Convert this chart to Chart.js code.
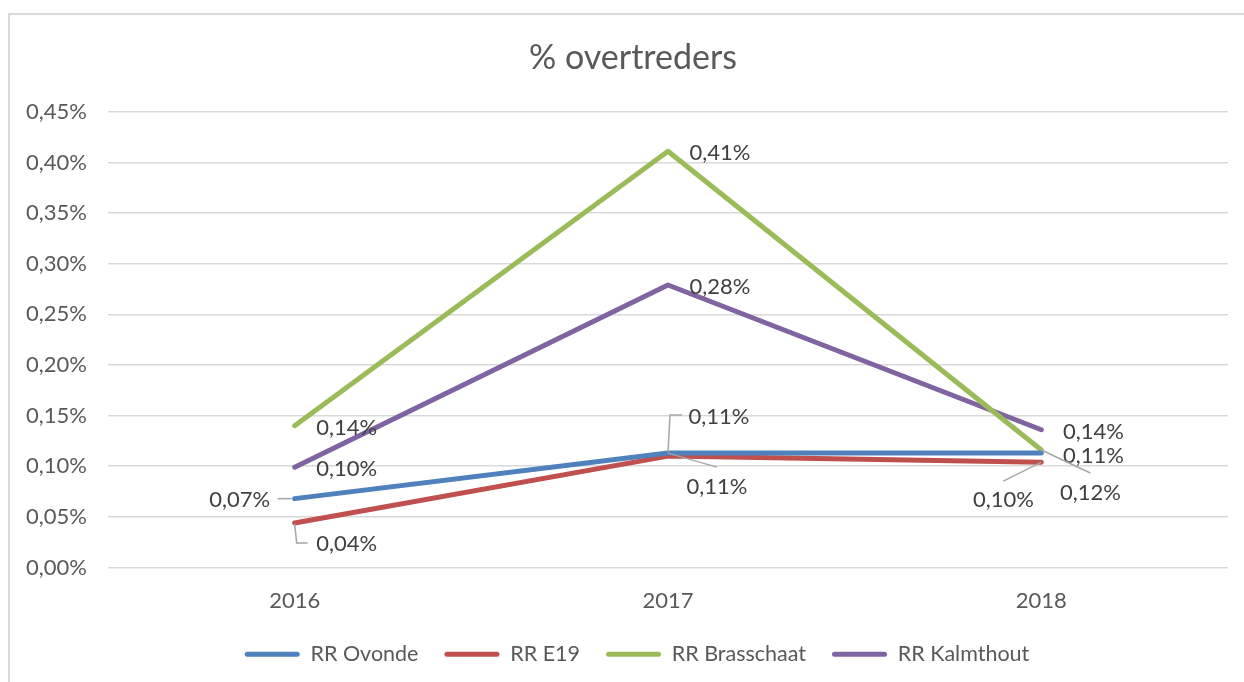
<!DOCTYPE html>
<html>
<head>
<meta charset="utf-8">
<script src="https://cdn.jsdelivr.net/npm/chart.js@4.4.1/dist/chart.umd.min.js"></script>
<style>
  html, body { margin: 0; padding: 0; background: #fff; }
  #frame { position: absolute; left: 8px; top: 13px; width: 1240px; height: 680px;
           border-left: 2px solid #d9d9d9; border-top: 2px solid #d9d9d9; }
  #wrap { position: absolute; left: 0; top: 0; width: 1244px; height: 682px; }
</style>
</head>
<body>
<div id="frame"></div>
<div id="wrap"><canvas id="chart"></canvas></div>
<script>
// chart data (values in %)
const years = ['2016', '2017', '2018'];
const ovonde = [0.068, 0.113, 0.113];
const e19 = [0.044, 0.110, 0.104];
const brasschaat = [0.140, 0.411, 0.116];
const kalmthout = [0.099, 0.279, 0.136];
const seriesNames = ['RR Ovonde', 'RR E19', 'RR Brasschaat', 'RR Kalmthout'];
const yTicks = [0, 0.05, 0.10, 0.15, 0.20, 0.25, 0.30, 0.35, 0.40, 0.45];

const colors = ['#4f81bd', '#c0504d', '#9bbb59', '#8064a2'];
const FONT = "Lato, 'Open Sans', sans-serif";
const TXT = '#595959';

const fmt = v => v.toFixed(2).replace('.', ',') + '%';

// label placement per dataset/point: [dx, dy] of text centre from point, optional leader polyline (relative)
const labelPos = [
    [{ d: [-55, 1], lead: [[-17, 0], [-3, 0]] },
     { d: [51, -36], lead: [[0, -1], [2, -38], [14, -38]] },
     { d: [52, 3] }],
    [{ d: [52, 21], lead: [[0, 1], [2, 20], [13, 20]] },
     { d: [49, 31], lead: [[0, -3], [49, 11]] },
     { d: [-38, 38], lead: [[0, 0], [-38, 19]] }],
    [{ d: [52, 2] }, { d: [52, 2] },
     { d: [49, 43], lead: [[0, 0], [49, 23]] }],
    [{ d: [52, 2] }, { d: [52, 2] }, { d: [52, 2] }]
];

const dataLabels = {
    id: 'dataLabels',
    afterDatasetsDraw(chart) {
        const ctx = chart.ctx;
        ctx.save();
        chart.data.datasets.forEach((ds, di) => {
            const meta = chart.getDatasetMeta(di);
            meta.data.forEach((pt, i) => {
                const pos = labelPos[di][i];
                if (pos.lead) {
                    ctx.strokeStyle = '#a6a6a6';
                    ctx.lineWidth = 1.5;
                    ctx.beginPath();
                    pos.lead.forEach((p, k) => {
                        if (k === 0) ctx.moveTo(pt.x + p[0], pt.y + p[1]);
                        else ctx.lineTo(pt.x + p[0], pt.y + p[1]);
                    });
                    ctx.stroke();
                }
                ctx.fillStyle = '#404040';
                ctx.font = '22px ' + FONT;
                ctx.textAlign = 'center';
                ctx.textBaseline = 'middle';
                ctx.fillText(fmt(ds.data[i]), pt.x + pos.d[0], pt.y + pos.d[1]);
            });
        });
        ctx.restore();
    }
};

// title and legend are centred on the whole frame, not the plot
const shiftCentre = {
    id: 'shiftCentre',
    afterLayout(chart) {
        chart.titleBlock.left = 38;
        chart.legend.left = 46;
    }
};

const datasets = [ovonde, e19, brasschaat, kalmthout].map((vals, i) => ({
    label: seriesNames[i],
    data: vals,
    borderColor: colors[i],
    backgroundColor: colors[i],
    borderWidth: 5,
    borderCapStyle: 'round',
    borderJoinStyle: 'round',
    pointRadius: 0,
    tension: 0
}));

new Chart(document.getElementById('chart'), {
    type: 'line',
    data: { labels: years, datasets: datasets },
    plugins: [dataLabels, shiftCentre],
    options: {
        responsive: true,
        maintainAspectRatio: false,
        animation: false,
        layout: { padding: { left: 8, right: 16, top: 0, bottom: 7 } },
        plugins: {
            title: {
                display: true,
                text: '% overtreders',
                color: TXT,
                font: { family: FONT, size: 34, weight: 'normal' },
                padding: { top: 38, bottom: 33 }
            },
            legend: {
                position: 'bottom',
                labels: {
                    color: TXT,
                    font: { family: FONT, size: 21.5 },
                    boxWidth: 55,
                    boxHeight: 5,
                    padding: 26,
                    generateLabels(chart) {
                        return chart.data.datasets.map((ds, i) => ({
                            text: ds.label,
                            fillStyle: ds.borderColor,
                            strokeStyle: ds.borderColor,
                            lineWidth: 0,
                            fontColor: TXT,
                            borderRadius: 2.5,
                            datasetIndex: i
                        }));
                    },
                    useBorderRadius: true
                }
            },
            tooltip: { enabled: false }
        },
        scales: {
            x: {
                offset: true,
                grid: { display: false, drawTicks: false },
                border: { display: false },
                ticks: { color: TXT, font: { family: FONT, size: 22 }, padding: 20 },
                afterFit(scale) { scale.height = 50; }
            },
            y: {
                min: yTicks[0],
                max: yTicks[yTicks.length - 1],
                afterBuildTicks(scale) { scale.ticks = yTicks.map(v => ({ value: v })); },
                grid: { color: '#d9d9d9', lineWidth: 1.5, drawTicks: false },
                border: { display: false },
                ticks: { color: TXT, font: { family: FONT, size: 22 }, padding: 21, callback: v => fmt(v) },
                afterFit(scale) { scale.width = 100; }
            }
        }
    }
});
</script>
</body>
</html>
